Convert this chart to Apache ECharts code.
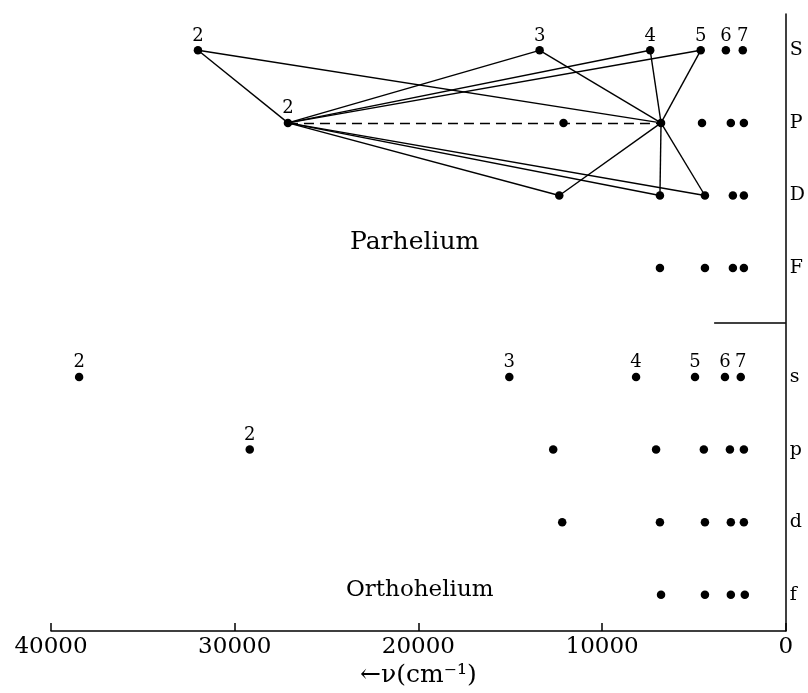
<!DOCTYPE html>
<html>
<head>
<meta charset="utf-8">
<script src="https://cdn.jsdelivr.net/npm/echarts@6/dist/echarts.min.js"></script>
<style>
  html, body { margin: 0; padding: 0; background: #fff; }
  #chart { width: 808px; height: 693px; }
</style>
</head>
<body>
<div id="chart"></div>
<script>
// term values (cm^-1), one array per series of levels
const parS = [32000, 13400, 7380, 4630, 3260, 2340];
const parP = [27100, 12100, 6790, 4560, 2990, 2280];
const parD = [12330, 6850, 4400, 2880, 2280];
const parF = [6850, 4400, 2880, 2280];
const orthS = [38470, 15050, 8150, 4940, 3310, 2450];
const orthP = [29180, 12660, 7060, 4460, 3040, 2280];
const orthD = [12170, 6850, 4400, 2990, 2280];
const orthF = [6790, 4400, 2990, 2230];

// row names on the right axis and the level each row sits at
const rowNames = ["S", "P", "D", "F", "s", "p", "d", "f"];
const rowLevels = [8, 7, 6, 5, 3.5, 2.5, 1.5, 0.5];

// n labels written above the dots
const labelsS = ["2", "3", "4", "5", "6", "7"];
const labelsP = ["2"];

// transitions drawn between parhelium levels: [row, index] -> [row, index]
const transitions = [
  [["S", 0], ["P", 0]],
  [["S", 0], ["P", 2]],
  [["P", 0], ["S", 1]],
  [["P", 0], ["S", 2]],
  [["P", 0], ["S", 3]],
  [["S", 1], ["P", 2]],
  [["S", 2], ["P", 2]],
  [["S", 3], ["P", 2]],
  [["P", 0], ["D", 0]],
  [["P", 0], ["D", 1]],
  [["P", 0], ["D", 2]],
  [["D", 0], ["P", 2]],
  [["D", 1], ["P", 2]],
  [["D", 2], ["P", 2]],
];
const dashedTransitions = [[["P", 0], ["P", 2]]];

const xTicks = [0, 10000, 20000, 30000, 40000];

const rows = { S: parS, P: parP, D: parD, F: parF, s: orthS, p: orthP, d: orthD, f: orthF };
const levelOf = (name) => rowLevels[rowNames.indexOf(name)];
const pt = ([name, i]) => [rows[name][i], levelOf(name)];

const FONT = "DejaVu Serif";
const INK = "#000";

const rowSeries = rowNames.map((name) => {
  const nums = name === "S" || name === "s" ? labelsS : name === "P" || name === "p" ? labelsP : [];
  return {
    type: "scatter",
    symbolSize: 8.5,
    itemStyle: { color: INK, opacity: 1 },
    data: rows[name].map((v) => [v, levelOf(name)]),
    label: {
      show: true,
      position: "top",
      distance: 1,
      fontFamily: FONT,
      fontSize: 18,
      color: INK,
      opacity: 1,
      formatter: (p) => nums[p.dataIndex] || "",
    },
    emphasis: { disabled: true },
    z: 5,
  };
});

const chart = echarts.init(document.getElementById("chart"));

const option = {
  animation: false,
  grid: { left: 51, right: 21, top: 14, bottom: 60 },
  xAxis: {
    type: "value",
    inverse: true,
    min: 0,
    max: 40000,
    interval: 10000,
    name: "←ν(cm⁻¹)",
    nameLocation: "middle",
    nameGap: 17,
    nameTextStyle: { fontFamily: FONT, fontSize: 25, color: INK },
    axisLine: { show: true, onZero: false, lineStyle: { color: INK, width: 1.5 } },
    axisTick: { show: true, inside: true, length: 8, lineStyle: { color: INK, width: 1.5 } },
    axisLabel: {
      margin: 4,
      fontFamily: FONT,
      fontSize: 23,
      color: INK,
      formatter: (v) => (xTicks.includes(v) ? String(v) : ""),
    },
    splitLine: { show: false },
  },
  yAxis: {
    type: "value",
    position: "right",
    min: 0,
    max: 8.5,
    interval: 0.5,
    axisLine: { show: true, lineStyle: { color: INK, width: 1.5 } },
    axisTick: { show: false },
    splitLine: { show: false },
    axisLabel: {
      margin: 4,
      fontFamily: FONT,
      fontSize: 19,
      color: INK,
      formatter: (v) => {
        const i = rowLevels.indexOf(v);
        return i >= 0 ? rowNames[i] : "";
      },
    },
  },
  graphic: [
    {
      type: "text",
      left: 350,
      top: 230,
      style: { text: "Parhelium", font: `25px "${FONT}"`, fill: INK },
    },
    {
      type: "text",
      left: 346,
      top: 579,
      style: { text: "Orthohelium", font: `23px "${FONT}"`, fill: INK },
    },
  ],
  series: [
    {
      type: "lines",
      coordinateSystem: "cartesian2d",
      silent: true,
      lineStyle: { color: INK, width: 1.4, opacity: 1 },
      data: transitions.map(([a, b]) => ({ coords: [pt(a), pt(b)] })),
      z: 3,
    },
    {
      type: "lines",
      coordinateSystem: "cartesian2d",
      silent: true,
      lineStyle: { color: INK, width: 1.4, opacity: 1, type: [10, 6] },
      data: dashedTransitions.map(([a, b]) => ({ coords: [pt(a), pt(b)] })),
      z: 3,
    },
    {
      // divider between parhelium and orthohelium rows
      type: "lines",
      coordinateSystem: "cartesian2d",
      silent: true,
      lineStyle: { color: INK, width: 1.5, opacity: 1 },
      data: [{ coords: [[3900, 4.25], [0, 4.25]] }],
    },
    ...rowSeries,
  ],
};

chart.setOption(option);
</script>
</body>
</html>
